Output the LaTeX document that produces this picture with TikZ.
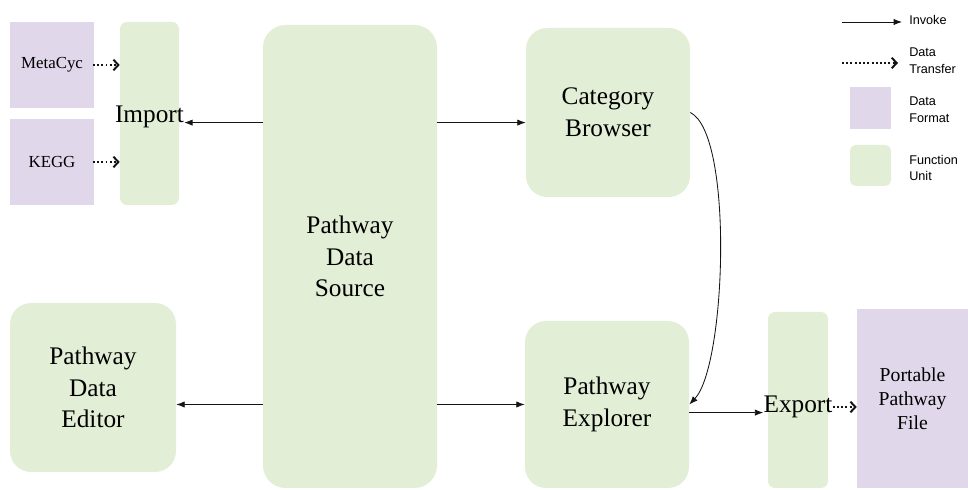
\documentclass[tikz,border=0pt]{standalone}
\usepackage{fontspec}
\setmainfont{Liberation Serif}
\newfontfamily\legfont{Liberation Sans}
\usetikzlibrary{arrows.meta, positioning, calc}
\definecolor{fmt}{RGB}{225,215,234}
\definecolor{fun}{RGB}{226,238,213}
\definecolor{coal}{RGB}{20,20,20}

\begin{document}
\begin{tikzpicture}[
  F/.style={fill=fmt,draw=none,inner sep=0pt,
            align=center,font=\fontsize{12}{15}\selectfont},
  U/.style={fill=fun,draw=none,inner sep=0pt,
            align=center,font=\fontsize{18}{22.5}\selectfont},
  inv/.style={-{Latex[length=6pt,width=4.5pt]},line width=0.6pt,coal},
  dt/.style={-{Straight Barb[length=3.5pt,width=7.5pt,line width=1.4pt]},
             line width=1.4pt,dash pattern=on 1.4pt off 1.6pt,coal},
  lb/.style={inner sep=0pt,font=\fontsize{18}{22.5}\selectfont},
  lg/.style={inner sep=0pt,anchor=west,align=left,
             font=\legfont\fontsize{9}{12}\selectfont}
]
\useasboundingbox (0,0) rectangle (24.2,12.25);

%% px -> cm : x*0.025 , (490-y)*0.025

% data formats
\node[F,minimum width=2.1cm,minimum height=2.15cm] (MC) at (1.3,10.625) {MetaCyc};
\node[F,minimum width=2.1cm,minimum height=2.15cm] (KG) at (1.3,8.2) {KEGG};
\node[F,minimum width=2.775cm,minimum height=4.475cm,
      font=\fontsize{14}{17}\selectfont] (PF) at (22.8125,2.2875)
      {Portable\\Pathway\\File};

% function units
\node[U,rounded corners=5pt,minimum width=1.475cm,minimum height=4.575cm]
      (IMbox) at (3.7375,9.4125) {};
\node[lb] (IM) at (3.7375,9.325) {Import};
\node[U,rounded corners=16pt,minimum width=4.35cm,minimum height=11.575cm]
      (PDS) at (8.75,5.8375) {Pathway\\Data\\Source};
\node[U,rounded corners=15pt,minimum width=4.1cm,minimum height=4.225cm]
      (CB) at (15.2,9.4375) {Category\\Browser};
\node[U,rounded corners=15pt,minimum width=4.1cm,minimum height=4.175cm]
      (PE) at (15.175,2.1375) {Pathway\\Explorer};
\node[U,rounded corners=15pt,minimum width=4.15cm,minimum height=4.225cm]
      (ED) at (2.325,2.5625) {Pathway\\Data\\Editor};
\node[U,rounded corners=5pt,minimum width=1.5cm,minimum height=4.4cm]
      (EXbox) at (19.95,2.25) {};
\node[lb] (EX) at (19.95,2.075) {Export};

% data transfer
\draw[dt] ([xshift=-1pt]MC.east) -- (MC.east -| IMbox.west);
\draw[dt] ([xshift=-1pt]KG.east) -- (KG.east -| IMbox.west);
\draw[dt] (EX.east) -- (EX.east -| PF.west);

% invoke
\draw[inv] (PDS.west |- IM.base east) -- (IM.base east);
\draw[inv] (PDS.east |- IM.base east) -- (CB.west |- IM.base east);
\draw[inv] (PDS.west |- PE.west) -- (PE.west -| ED.east);
\draw[inv] (PDS.east |- PE.west) -- (PE.west);
\draw[inv] (CB.east) .. controls (18.35,8.9) and (18.15,3.1) .. (PE.east);
\draw[inv] (PE.east |- EX.base west) -- (EX.base west);

% legend
\coordinate (i0) at (21.05,11.7);
\coordinate (i1) at (22.55,11.7);
\coordinate (d0) at (21.05,10.675);
\coordinate (d1) at (22.45,10.675);
\draw[inv] (i0) -- (i1);
\draw[dt] (d0) -- (d1);
\node[lg] (Linv) at (22.725,11.75) {Invoke};
\node[lg] (Ldt) at (22.725,10.725) {Data\\Transfer};
\node[F,minimum width=1.025cm,minimum height=1.05cm] (Lfmt) at (21.7625,9.55) {};
\node[lg] (Lfmtt) at (22.725,9.5125) {Data\\Format};
\node[U,rounded corners=4pt,minimum width=1.025cm,minimum height=1.025cm]
      (Lfun) at (21.7625,8.1125) {};
\node[lg] (Lfunt) at (22.725,8.05) {Function\\Unit};

\end{tikzpicture}
\end{document}
